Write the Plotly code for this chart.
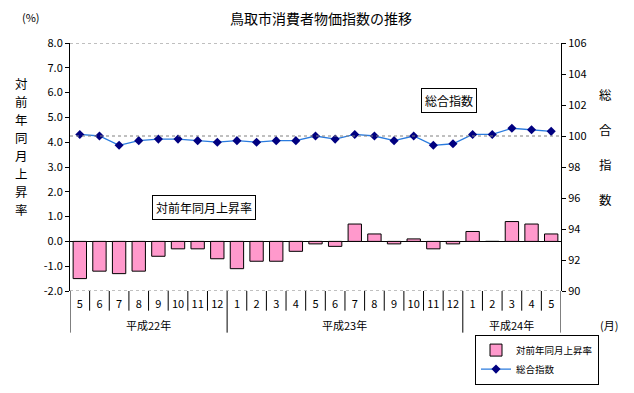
import plotly.graph_objects as go

# ---- data ----
months = ["5", "6", "7", "8", "9", "10", "11", "12",
          "1", "2", "3", "4", "5", "6", "7", "8", "9", "10", "11", "12",
          "1", "2", "3", "4", "5"]
year_labels = ["平成22年", "平成23年", "平成24年"]
year_counts = [8, 12, 5]
rate = [-1.5, -1.2, -1.3, -1.2, -0.6, -0.3, -0.3, -0.7,
        -1.1, -0.8, -0.8, -0.4, -0.1, -0.2, 0.7, 0.3, -0.1, 0.1, -0.3, -0.1,
        0.4, 0.0, 0.8, 0.7, 0.3]
index = [100.1, 100.0, 99.4, 99.7, 99.8, 99.8, 99.7, 99.6,
         99.7, 99.6, 99.7, 99.7, 100.0, 99.8, 100.1, 100.0, 99.7, 100.0, 99.4, 99.5,
         100.1, 100.1, 100.5, 100.4, 100.3]
left_tickvals = [8, 7, 6, 5, 4, 3, 2, 1, 0, -1, -2]
left_ticktext = ["8.0", "7.0", "6.0", "5.0", "4.0", "3.0", "2.0", "1.0", "0.0", "-1.0", "-2.0"]
right_tickvals = [106, 104, 102, 100, 98, 96, 94, 92, 90]
right_ticktext = ["106", "104", "102", "100", "98", "96", "94", "92", "90"]
left_title = "対前年同月上昇率"
right_title = "総合指数"

FONT = "Noto Sans CJK JP"
xs = list(range(len(months)))

# page geometry: the html body has an 8px margin, so the figure sits at (8, 8)
OFF = 8
PAGE_W, PAGE_H = 634, 393
W, H = PAGE_W - OFF, PAGE_H - OFF
PLOT_X0, PLOT_X1, PLOT_Y0, PLOT_Y1 = 70, 561, 43, 291.3  # in page px
L, R = PLOT_X0 - OFF, W - (PLOT_X1 - OFF)
T, B = PLOT_Y0 - OFF, H - (PLOT_Y1 - OFF)
PW, PH = PLOT_X1 - PLOT_X0, PLOT_Y1 - PLOT_Y0


def px(xp):
    return (xp - PLOT_X0) / PW


def py(yp):
    return (PLOT_Y1 - yp) / PH


fig = go.Figure()
fig.add_trace(go.Bar(
    x=xs, y=rate, name="対前年同月上昇率",
    marker=dict(color="#FF99CC", line=dict(color="black", width=1)),
    width=0.68, yaxis="y"))
fig.add_trace(go.Scatter(
    x=xs, y=index, name="総合指数", mode="lines+markers",
    line=dict(color="#2A7BDE", width=1.3),
    marker=dict(symbol="diamond", size=7, color="#000080"),
    yaxis="y2"))

shapes = []
for yv, ref in [(8, "y"), (-2, "y"), (100, "y2")]:
    shapes.append(dict(type="line", xref="paper", x0=0, x1=1, yref=ref, y0=yv, y1=yv,
                       line=dict(color="#808080", width=1, dash="dot")))
bounds = [0]
for c in year_counts:
    bounds.append(bounds[-1] + c)
for b in range(len(months) + 1):
    long_ = b in bounds
    shapes.append(dict(type="line", xref="x", x0=b - 0.5, x1=b - 0.5, yref="paper",
                       y0=0, y1=py(333) if long_ else py(311),
                       line=dict(color="black", width=1)))


def txt(xp, yp, text, size=11, **kw):
    d = dict(x=px(xp), y=py(yp), xref="paper", yref="paper", text=text,
             showarrow=False, xanchor="center", yanchor="middle",
             font=dict(size=size, family=FONT, color="black"))
    d.update(kw)
    return d


annotations = []
for i, lab in enumerate(year_labels):
    mid = (bounds[i] + bounds[i + 1] - 1) / 2
    annotations.append(dict(x=mid, xref="x", y=py(325), yref="paper", text=lab,
                            showarrow=False, xanchor="center", yanchor="middle",
                            font=dict(size=11, family=FONT, color="black")))
for i, ch in enumerate(left_title):
    annotations.append(txt(21, 84 + 18 * i, ch, size=12.5, borderpad=0))
for i, ch in enumerate(right_title):
    annotations.append(txt(605, 95 + 35 * i, ch, size=12.5, borderpad=0))
annotations += [
    txt(31, 17, "(%)"),
    txt(609, 325, "(月)"),
    txt(449, 101, "総合指数", size=12, bordercolor="black", borderwidth=1,
        borderpad=3, bgcolor="white"),
    txt(204, 207.5, "対前年同月上昇率", size=12, bordercolor="black", borderwidth=1,
        borderpad=3, bgcolor="white"),
]

fig.update_layout(
    width=W, height=H,
    margin=dict(l=L, r=R, t=T, b=B, autoexpand=False),
    paper_bgcolor="white", plot_bgcolor="white",
    font=dict(family=FONT, size=11, color="black"),
    title=dict(text="鳥取市消費者物価指数の推移", x=px(321), xref="paper", xanchor="center",
               y=1 - (19 - OFF) / H, yanchor="middle",
               font=dict(size=14, family=FONT, color="black")),
    xaxis=dict(range=[-0.5, len(months) - 0.5], tickvals=xs, ticktext=months,
               ticks="", showline=False, showgrid=False, zeroline=False,
               ticklabelstandoff=5, tickfont=dict(size=11), fixedrange=True),
    yaxis=dict(range=[-2, 8], tickvals=left_tickvals, ticktext=left_ticktext,
               showline=True, linecolor="black", linewidth=1, ticks="outside",
               ticklen=4, tickcolor="black", showgrid=False, zeroline=True,
               zerolinecolor="black", zerolinewidth=1, tickfont=dict(size=11)),
    yaxis2=dict(range=[90, 106], tickvals=right_tickvals, ticktext=right_ticktext,
                overlaying="y", side="right", showline=True, linecolor="black",
                linewidth=1, ticks="outside", ticklen=4, tickcolor="black",
                showgrid=False, zeroline=False, tickfont=dict(size=11)),
    legend=dict(x=px(475), y=py(385), xanchor="left", yanchor="bottom",
                bordercolor="black", borderwidth=1, bgcolor="white",
                font=dict(size=9.5, family=FONT), traceorder="normal",
                tracegroupgap=0, itemwidth=30),
    shapes=shapes, annotations=annotations, bargap=0.3,
)

fig.write_html("out.html")
